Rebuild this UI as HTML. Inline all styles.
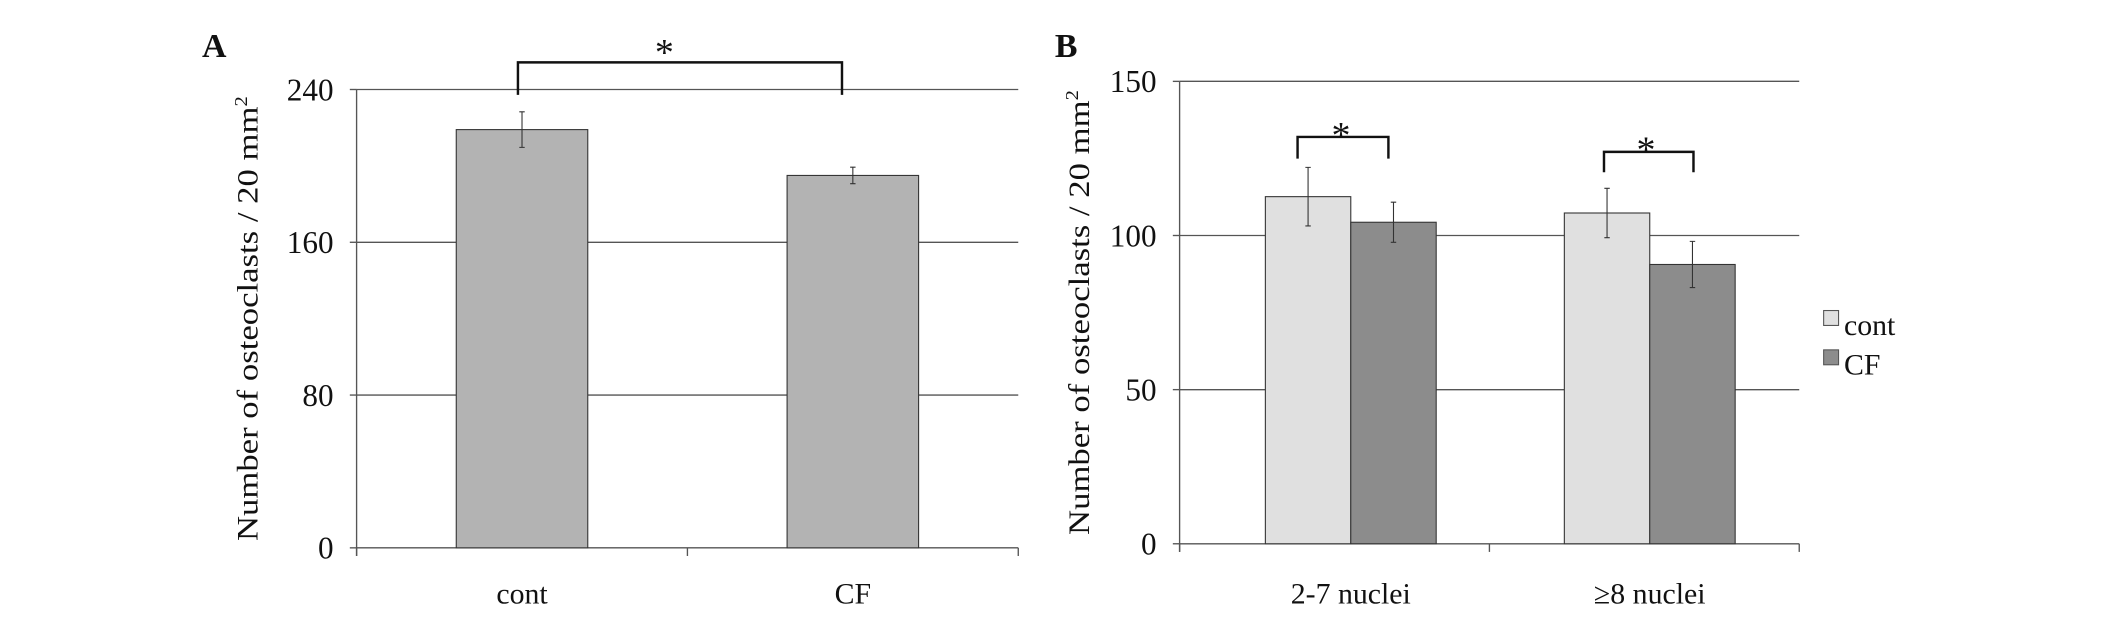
<!DOCTYPE html>
<html><head><meta charset="utf-8"><style>
html,body{margin:0;padding:0;background:#fff;}
svg{display:block;}
text{font-family:"Liberation Serif",serif;fill:#111;}
</style></head><body>
<svg id="fig" width="2126" height="617" viewBox="0 0 1568 455" preserveAspectRatio="none" xmlns="http://www.w3.org/2000/svg">
<g id="pA"></g>
<g id="pB"></g>
</svg>
<script>
const catsA = ["cont", "CF"];
const valsA = [219, 195];
const errA = [9.3, 4.3];
const ticksA = [0, 80, 160, 240];
const catsB = ["2-7 nuclei", "\u22658 nuclei"];
const seriesNames = ["cont", "CF"];
const contB = [112.6, 107.3];
const cfB = [104.3, 90.6];
const contErrB = [9.5, 8];
const cfErrB = [6.5, 7.5];
const ticksB = [0, 50, 100, 150];

const NS = "http://www.w3.org/2000/svg";
function mk(parent, tag, attrs, txt) {
  const e = document.createElementNS(NS, tag);
  for (const k in attrs) e.setAttribute(k, attrs[k]);
  if (txt !== undefined) e.textContent = txt;
  parent.appendChild(e);
  return e;
}
function drawPanel(g, o) {
  const y = v => o.y0 - (v - o.min) / (o.max - o.min) * (o.y0 - o.yTop);
  let e;
  e = mk(g, "text", {x: o.labX, y: 42, "font-size": 25, "font-weight": "bold"}, o.letter);
  
  
  o.ticks.forEach(t => {
    if (t !== 0) {
      e = mk(g, "line", {x1: o.x0, x2: o.x1, y1: y(t), y2: y(t), stroke: "#555", "stroke-width": 1});
      
      
    }
    e = mk(g, "line", {x1: o.x0 - 5, x2: o.x0, y1: y(t), y2: y(t), stroke: "#555", "stroke-width": 1});
    
    
    e = mk(g, "text", {x: o.x0 - 17, y: y(t) + 8, "font-size": 23, "text-anchor": "end"}, String(t));
    
    
  });
  e = mk(g, "line", {x1: o.x0, x2: o.x0, y1: o.yTop, y2: o.y0 + 6, stroke: "#555"});
  
  
  e = mk(g, "line", {x1: o.x0, x2: o.x1, y1: o.y0, y2: o.y0, stroke: "#555"});
  
  
  const n = o.cats.length, bw = (o.x1 - o.x0) / n;
  for (let i = 0; i <= n; i++) {
    e = mk(g, "line", {x1: o.x0 + i * bw, x2: o.x0 + i * bw, y1: o.y0, y2: o.y0 + 6, stroke: "#555"});
    
    
  }
  const cy = (o.yTop + o.y0) / 2;
  e = mk(g, "text", {x: 0, y: 0, "font-size": 22, "text-anchor": "middle", transform: `translate(${o.titleX},${cy}) rotate(-90)`, textLength: 328, lengthAdjust: "spacingAndGlyphs"});
  
  
  e.appendChild(document.createTextNode("Number of osteoclasts / 20 mm"));
  mk(e, "tspan", {"font-size": 13, dy: -8}, "2");
  o.cats.forEach((c, i) => {
    const cx = o.x0 + (i + 0.5) * bw + (o.barOff ? o.barOff[i] : 0);
    e = mk(g, "text", {x: cx, y: 445, "font-size": 22, "text-anchor": "middle"}, c);
    
    
    const m = o.series.length, barW = o.barW;
    const start = cx - m * barW / 2;
    o.series.forEach((s, j) => {
      const bx = start + j * barW, v = s.vals[i], er = s.errs[i];
      e = mk(g, "rect", {x: bx, y: y(v), width: barW, height: o.y0 - y(v), fill: s.color, stroke: "#333", "stroke-width": 0.8});
      
      
      const ex = bx + barW / 2;
      e = mk(g, "path", {d: `M${ex},${y(v + er)}V${y(v - er)}M${ex - 2},${y(v + er)}h4M${ex - 2},${y(v - er)}h4`, stroke: "#333", "stroke-width": 0.8, fill: "none"});
      
      
    });
  });
}
drawPanel(document.getElementById("pA"), {letter: "A", labX: 149, x0: 263, x1: 751, y0: 404, yTop: 66, min: 0, max: 240, ticks: ticksA, titleX: 190, cats: catsA, barW: 97,
  series: [{name: "a", vals: valsA, errs: errA, color: "#b3b3b3"}]});
drawPanel(document.getElementById("pB"), {letter: "B", labX: 778, x0: 870, x1: 1327, y0: 401, yTop: 60, min: 0, max: 150, ticks: ticksB, titleX: 803, cats: catsB, barW: 63, barOff: [12, 4],
  series: [{name: "cont", vals: contB, errs: contErrB, color: "#e0e0e0"}, {name: "cf", vals: cfB, errs: cfErrB, color: "#8c8c8c"}]});

const A = document.getElementById("pA"), B = document.getElementById("pB");
let e;
e = mk(A, "path", {d: "M382,70V46H621V70", stroke: "#111", "stroke-width": 1.8, fill: "none"});


e = mk(A, "text", {x: 490, y: 48, "font-size": 28, "text-anchor": "middle"}, "*");


e = mk(B, "path", {d: "M957,117V101H1024V117", stroke: "#111", "stroke-width": 1.8, fill: "none"});


e = mk(B, "text", {x: 989, y: 109, "font-size": 28, "text-anchor": "middle"}, "*");


e = mk(B, "path", {d: "M1183,127V112H1249V127", stroke: "#111", "stroke-width": 1.8, fill: "none"});


e = mk(B, "text", {x: 1214, y: 120, "font-size": 28, "text-anchor": "middle"}, "*");


const legColors = ["#e0e0e0", "#8c8c8c"];
seriesNames.forEach((s, i) => {
  const yy = 229 + i * 29;
  let r = mk(B, "rect", {x: 1345, y: yy, width: 11, height: 11, fill: legColors[i], stroke: "#555", "stroke-width": 0.8});
  
  
  r = mk(B, "text", {x: 1360, y: yy + 18, "font-size": 22}, s);
  
  
});
</script>
</body></html>
